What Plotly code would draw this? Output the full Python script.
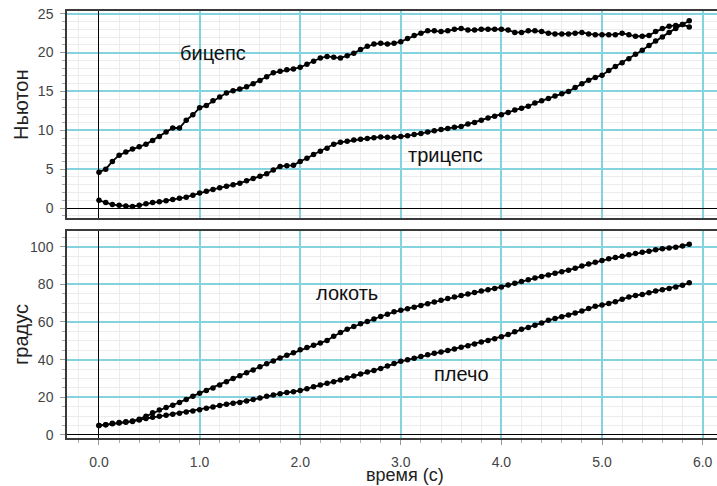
import plotly.graph_objects as go

# ---- data ----
time_s = [0.000, 0.067, 0.133, 0.200, 0.267, 0.333, 0.400, 0.467, 0.533, 0.600,
          0.667, 0.733, 0.800, 0.867, 0.933, 1.000, 1.067, 1.133, 1.200, 1.267,
          1.333, 1.400, 1.467, 1.533, 1.600, 1.667, 1.733, 1.800, 1.867, 1.933,
          2.000, 2.067, 2.133, 2.200, 2.267, 2.333, 2.400, 2.467, 2.533, 2.600,
          2.667, 2.733, 2.800, 2.867, 2.933, 3.000, 3.067, 3.133, 3.200, 3.267,
          3.333, 3.400, 3.467, 3.533, 3.600, 3.667, 3.733, 3.800, 3.867, 3.933,
          4.000, 4.067, 4.133, 4.200, 4.267, 4.333, 4.400, 4.467, 4.533, 4.600,
          4.667, 4.733, 4.800, 4.867, 4.933, 5.000, 5.067, 5.133, 5.200, 5.267,
          5.333, 5.400, 5.467, 5.533, 5.600, 5.667, 5.733, 5.800, 5.867]

biceps = [4.6, 5.0, 6.0, 6.8, 7.2, 7.6, 7.9, 8.2, 8.7, 9.2, 9.8, 10.3, 10.3, 11.3, 12.0,
          12.9, 13.2, 13.8, 14.3, 14.8, 15.1, 15.3, 15.6, 16.0, 16.4, 16.9, 17.4, 17.6, 17.8, 17.9,
          18.1, 18.5, 18.9, 19.3, 19.5, 19.4, 19.3, 19.6, 19.9, 20.4, 20.8, 21.1, 21.2, 21.1, 21.2,
          21.4, 21.8, 22.2, 22.5, 22.8, 22.8, 22.7, 22.8, 23.0, 23.1, 22.9, 22.9, 23.0, 23.0, 23.0,
          23.0, 22.9, 22.6, 22.6, 22.8, 22.8, 22.7, 22.5, 22.4, 22.4, 22.4, 22.5, 22.6, 22.4, 22.3,
          22.3, 22.3, 22.3, 22.5, 22.3, 22.1, 22.1, 22.2, 22.7, 23.1, 23.4, 23.5, 23.6, 23.3]

triceps = [1.0, 0.7, 0.45, 0.35, 0.25, 0.2, 0.35, 0.55, 0.7, 0.8, 0.95, 1.1, 1.25, 1.4, 1.65,
           1.95, 2.15, 2.4, 2.6, 2.8, 3.0, 3.2, 3.5, 3.8, 4.1, 4.4, 4.9, 5.35, 5.45, 5.5,
           6.0, 6.4, 6.9, 7.3, 7.7, 8.2, 8.45, 8.6, 8.75, 8.85, 8.95, 9.05, 9.15, 9.1, 9.1,
           9.2, 9.3, 9.45, 9.6, 9.8, 9.95, 10.1, 10.25, 10.4, 10.5, 10.8, 11.0, 11.3, 11.6, 11.8,
           12.0, 12.3, 12.6, 12.85, 13.1, 13.5, 13.8, 14.1, 14.4, 14.7, 15.0, 15.5, 16.0, 16.45, 16.8,
           17.1, 17.7, 18.2, 18.7, 19.2, 19.8, 20.3, 20.9, 21.5, 22.0, 22.6, 23.1, 23.6, 24.1]

elbow = [5.0, 5.5, 6.2, 6.6, 7.0, 7.4, 8.4, 10.0, 11.8, 13.2, 14.6, 15.8, 17.2, 18.9, 20.6,
         22.2, 23.6, 25.0, 26.6, 28.2, 30.0, 31.5, 33.0, 34.5, 36.2, 37.8, 39.3, 40.9, 42.3, 43.6,
         45.3, 46.4, 47.6, 48.8, 50.2, 52.4, 54.4, 56.1, 57.6, 59.0, 60.3, 61.6, 62.9, 64.1, 65.4,
         66.2, 67.0, 67.8, 68.8, 69.7, 70.6, 71.5, 72.4, 73.3, 74.0, 74.8, 75.6, 76.4, 77.1, 77.8,
         78.6, 79.6, 80.6, 81.5, 82.4, 83.3, 84.2, 85.0, 85.9, 86.6, 87.4, 88.5, 89.7, 90.8, 91.7,
         92.6, 93.5, 94.2, 94.9, 95.7, 96.4, 97.0, 97.5, 98.3, 98.9, 99.3, 99.7, 100.3, 101.3]

shoulder = [5.0, 5.4, 6.0, 6.4, 6.8, 7.2, 8.0, 8.8, 9.4, 9.9, 10.5, 11.0, 11.6, 12.2, 12.8,
            13.4, 14.2, 14.9, 15.7, 16.3, 16.8, 17.3, 18.0, 18.8, 19.6, 20.5, 21.2, 21.9, 22.5, 23.0,
            23.6, 24.6, 25.6, 26.5, 27.4, 28.3, 29.2, 30.2, 31.3, 32.4, 33.4, 34.3, 35.3, 36.6, 38.0,
            39.1, 39.9, 40.8, 41.7, 42.6, 43.4, 44.1, 44.8, 45.7, 46.6, 47.4, 48.3, 49.3, 50.2, 51.1,
            52.2, 53.3, 54.8, 56.1, 57.1, 58.2, 59.5, 60.9, 61.8, 62.8, 63.7, 64.7, 65.8, 67.1, 68.3,
            69.0, 69.8, 70.8, 72.0, 73.3, 74.0, 74.6, 75.5, 76.4, 77.1, 77.8, 78.6, 79.5, 80.8]

top_ticks = [0, 5, 10, 15, 20, 25]
bottom_ticks = [0, 20, 40, 60, 80, 100]
x_ticks = [0, 1, 2, 3, 4, 5, 6]
x_labels = ["0.0", "1.0", "2.0", "3.0", "4.0", "5.0", "6.0"]

# ---- styling ----
CYAN = "#86d3e0"
MINOR = "#ececec"
FRAME = "#3a3a3a"
FONT = "Liberation Sans, Arial, sans-serif"
W, H = 717, 486
ML, MR, MT, MB = 67, 0, 11, 48
PW, PH = W - ML - MR, H - MT - MB


def px_x(x):
    return (x - ML) / PW


def px_y(y):
    return (H - MB - y) / PH


fig = go.Figure()
mk = dict(color="black", size=5.5)
ln = dict(color="black", width=1.8)
for ys in (biceps, triceps):
    fig.add_trace(go.Scatter(x=time_s, y=ys, mode="lines+markers", marker=mk, line=ln,
                             xaxis="x", yaxis="y", showlegend=False, hoverinfo="skip"))
for ys in (elbow, shoulder):
    fig.add_trace(go.Scatter(x=time_s, y=ys, mode="lines+markers", marker=mk, line=ln,
                             xaxis="x2", yaxis="y2", showlegend=False, hoverinfo="skip"))

xcommon = dict(range=[-0.318, 6.143], tickvals=x_ticks, ticktext=x_labels, automargin=False,
               showgrid=True, gridcolor=CYAN, gridwidth=1.5,
               zeroline=True, zerolinecolor="black", zerolinewidth=1.2,
               showline=True, mirror=True, linecolor=FRAME, linewidth=1.5,
               tickfont=dict(size=14, color="#444"), tickcolor="#999")
ycommon = dict(showgrid=True, gridcolor=CYAN, gridwidth=1.5, automargin=False,
               zeroline=True, zerolinecolor="black", zerolinewidth=1.2,
               showline=True, mirror=True, linecolor=FRAME, linewidth=1.5,
               ticks="outside", ticklen=5, tickcolor="#999", ticklabelstandoff=4,
               tickfont=dict(size=14, color="#444"))

fig.update_layout(
    width=W, height=H,
    margin=dict(l=ML, r=MR, t=MT, b=MB),
    paper_bgcolor="white", plot_bgcolor="white",
    font=dict(family=FONT, color="#222"),
    xaxis=dict(xcommon, anchor="y", domain=[0, 1], showticklabels=False, ticks="",
               minor=dict(dtick=0.2, tick0=0, showgrid=True, gridcolor=MINOR, gridwidth=1.2, ticks="")),
    yaxis=dict(ycommon, anchor="x", domain=[0.5152, 1], range=[-1.28, 25.35], tickvals=top_ticks,
               minor=dict(dtick=1, tick0=0, showgrid=True, gridcolor=MINOR, gridwidth=1.2,
                          ticks="outside", ticklen=3, tickcolor="#aaa")),
    xaxis2=dict(xcommon, anchor="y2", domain=[0, 1], matches="x",
                ticks="outside", ticklen=5, ticklabelstandoff=5,
                minor=dict(dtick=0.2, tick0=0, showgrid=True, gridcolor=MINOR, gridwidth=1.2,
                           ticks="outside", ticklen=3, tickcolor="#aaa")),
    yaxis2=dict(ycommon, anchor="x2", domain=[0, 0.4848], range=[-1.6, 108.3], tickvals=bottom_ticks,
                minor=dict(dtick=5, tick0=0, showgrid=True, gridcolor=MINOR, gridwidth=1.2,
                           ticks="outside", ticklen=3, tickcolor="#aaa")),
)

ann_font = dict(size=20, color="#111", family=FONT)
fig.add_annotation(x=1.13, y=20.0, xref="x", yref="y", text="бицепс", showarrow=False, font=ann_font)
fig.add_annotation(x=3.44, y=6.8, xref="x", yref="y", text="трицепс", showarrow=False, font=ann_font)
fig.add_annotation(x=2.47, y=75.6, xref="x2", yref="y2", text="локоть", showarrow=False, font=ann_font)
fig.add_annotation(x=3.60, y=32.6, xref="x2", yref="y2", text="плечо", showarrow=False, font=ann_font)

title_font = dict(size=18, color="#222", family=FONT)
fig.add_annotation(x=px_x(405), y=px_y(475), xref="paper", yref="paper", text="время (с)",
                   showarrow=False, font=title_font, xanchor="center", yanchor="middle")
fig.add_annotation(x=px_x(21), y=px_y(105), xref="paper", yref="paper", text="Ньютон",
                   showarrow=False, font=dict(title_font, size=20), textangle=-90,
                   xanchor="center", yanchor="middle")
fig.add_annotation(x=px_x(21), y=px_y(335), xref="paper", yref="paper", text="градус",
                   showarrow=False, font=dict(title_font, size=20), textangle=-90,
                   xanchor="center", yanchor="middle")

fig.write_html("out.html", config={"displayModeBar": False},
               post_script="document.body.style.margin='0';document.body.style.overflow='hidden';")
